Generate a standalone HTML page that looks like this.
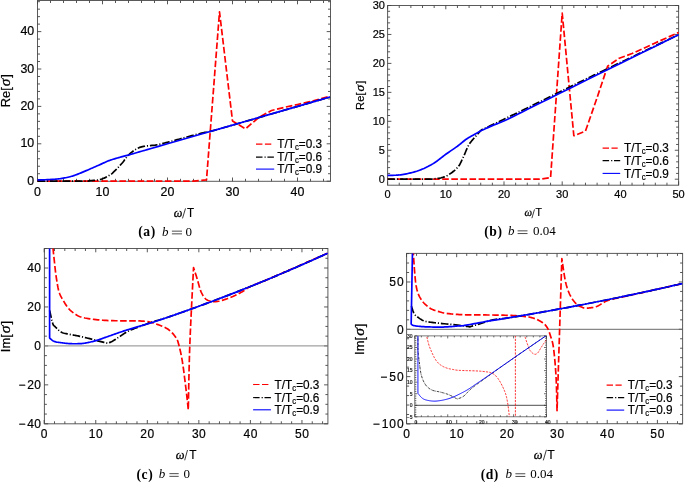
<!DOCTYPE html>
<html><head><meta charset="utf-8"><style>
html,body{margin:0;padding:0;background:#fff;}
svg{display:block;will-change:transform;}
text[font-family*="Sans"]{stroke:#000;stroke-width:0.2px;}
</style></head><body>
<svg width="685" height="482" viewBox="0 0 685 482">
<rect width="685" height="482" fill="#fff"/>
<rect x="37.5" y="0.5" width="293.00" height="180.80" fill="none" stroke="#5a5a5a" stroke-width="1.0"/>
<path d="M37.50,181.3v-3.8M37.50,0.5v3.8M50.50,181.3v-2.5M50.50,0.5v2.5M63.50,181.3v-2.5M63.50,0.5v2.5M76.50,181.3v-2.5M76.50,0.5v2.5M89.50,181.3v-2.5M89.50,0.5v2.5M102.50,181.3v-3.8M102.50,0.5v3.8M115.50,181.3v-2.5M115.50,0.5v2.5M128.50,181.3v-2.5M128.50,0.5v2.5M141.50,181.3v-2.5M141.50,0.5v2.5M154.50,181.3v-2.5M154.50,0.5v2.5M167.50,181.3v-3.8M167.50,0.5v3.8M180.50,181.3v-2.5M180.50,0.5v2.5M193.50,181.3v-2.5M193.50,0.5v2.5M206.50,181.3v-2.5M206.50,0.5v2.5M219.50,181.3v-2.5M219.50,0.5v2.5M232.50,181.3v-3.8M232.50,0.5v3.8M245.50,181.3v-2.5M245.50,0.5v2.5M258.50,181.3v-2.5M258.50,0.5v2.5M271.50,181.3v-2.5M271.50,0.5v2.5M284.50,181.3v-2.5M284.50,0.5v2.5M297.50,181.3v-3.8M297.50,0.5v3.8M310.50,181.3v-2.5M310.50,0.5v2.5M323.50,181.3v-2.5M323.50,0.5v2.5M37.5,181.20h3.8M330.5,181.20h-3.8M37.5,173.72h2.5M330.5,173.72h-2.5M37.5,166.24h2.5M330.5,166.24h-2.5M37.5,158.76h2.5M330.5,158.76h-2.5M37.5,151.28h2.5M330.5,151.28h-2.5M37.5,143.80h3.8M330.5,143.80h-3.8M37.5,136.32h2.5M330.5,136.32h-2.5M37.5,128.84h2.5M330.5,128.84h-2.5M37.5,121.36h2.5M330.5,121.36h-2.5M37.5,113.88h2.5M330.5,113.88h-2.5M37.5,106.40h3.8M330.5,106.40h-3.8M37.5,98.92h2.5M330.5,98.92h-2.5M37.5,91.44h2.5M330.5,91.44h-2.5M37.5,83.96h2.5M330.5,83.96h-2.5M37.5,76.48h2.5M330.5,76.48h-2.5M37.5,69.00h3.8M330.5,69.00h-3.8M37.5,61.52h2.5M330.5,61.52h-2.5M37.5,54.04h2.5M330.5,54.04h-2.5M37.5,46.56h2.5M330.5,46.56h-2.5M37.5,39.08h2.5M330.5,39.08h-2.5M37.5,31.60h3.8M330.5,31.60h-3.8M37.5,24.12h2.5M330.5,24.12h-2.5M37.5,16.64h2.5M330.5,16.64h-2.5M37.5,9.16h2.5M330.5,9.16h-2.5M37.5,1.68h2.5M330.5,1.68h-2.5" stroke="#444" stroke-width="0.9" fill="none"/>
<path d="M37.50,181.20 L193.50,181.13 L206.50,179.89 L219.50,11.78 L232.50,120.99 L245.50,128.84 L258.50,117.62 L271.50,110.51 L284.50,107.33 L297.50,104.53 L310.50,101.54 L330.00,96.30" fill="none" stroke="#ff0000" stroke-width="1.7" stroke-dasharray="6.6 2.5" stroke-linejoin="round"/>
<path d="M37.50,181.20 L41.28,181.20 L46.59,181.19 L52.94,181.19 L59.84,181.18 L66.79,181.17 L73.30,181.16 L78.87,181.15 L83.00,181.13 L85.65,181.11 L87.26,181.09 L88.09,181.08 L88.40,181.06 L88.44,181.04 L88.47,180.99 L88.74,180.92 L89.50,180.83 L90.68,180.71 L92.00,180.59 L93.42,180.45 L94.90,180.29 L96.40,180.11 L97.86,179.89 L99.26,179.63 L100.55,179.33 L101.75,178.97 L102.92,178.56 L104.05,178.11 L105.14,177.62 L106.18,177.12 L107.18,176.60 L108.12,176.09 L109.00,175.59 L109.79,175.12 L110.47,174.68 L111.07,174.26 L111.64,173.81 L112.20,173.34 L112.79,172.80 L113.45,172.19 L114.20,171.48 L115.06,170.64 L116.00,169.71 L116.99,168.69 L118.02,167.62 L119.06,166.51 L120.08,165.40 L121.07,164.30 L122.00,163.25 L122.86,162.21 L123.67,161.15 L124.45,160.08 L125.21,159.02 L125.98,157.97 L126.77,156.95 L127.60,155.96 L128.50,155.02 L129.47,154.11 L130.49,153.21 L131.55,152.33 L132.64,151.48 L133.74,150.68 L134.84,149.93 L135.91,149.26 L136.95,148.66 L137.93,148.16 L138.85,147.75 L139.75,147.41 L140.65,147.13 L141.57,146.89 L142.54,146.67 L143.59,146.45 L144.75,146.23 L146.03,146.02 L147.42,145.86 L148.88,145.72 L150.40,145.59 L151.94,145.46 L153.48,145.31 L154.99,145.14 L156.45,144.92 L157.85,144.66 L159.21,144.38 L160.56,144.08 L161.89,143.75 L163.24,143.41 L164.62,143.05 L166.03,142.68 L167.50,142.30 L169.03,141.90 L170.61,141.48 L172.23,141.04 L173.88,140.59 L175.54,140.12 L177.20,139.66 L178.86,139.20 L180.50,138.75 L182.12,138.30 L183.75,137.85 L185.38,137.40 L187.00,136.95 L188.62,136.50 L190.25,136.06 L191.88,135.62 L193.50,135.20 L195.12,134.78 L196.75,134.38 L198.38,133.98 L200.00,133.59 L201.62,133.19 L203.25,132.80 L204.88,132.41 L206.50,132.02 L207.46,131.82 L207.46,131.89 L207.09,132.08 L206.91,132.22 L207.48,132.13 L209.39,131.65 L213.21,130.61 L219.50,128.84 L229.40,126.02 L242.86,122.16 L258.65,117.62 L275.56,112.75 L292.37,107.90 L307.86,103.43 L320.81,99.70 L330.00,97.05" fill="none" stroke="#000000" stroke-width="1.7" stroke-dasharray="7.6 1.9 1.1 1.9" stroke-linejoin="round"/>
<path d="M37.50,180.00 L38.52,179.97 L39.90,179.93 L41.54,179.88 L43.35,179.82 L45.24,179.75 L47.13,179.68 L48.91,179.60 L50.50,179.52 L51.93,179.43 L53.31,179.34 L54.65,179.24 L55.94,179.14 L57.21,179.02 L58.45,178.89 L59.68,178.75 L60.90,178.58 L62.12,178.39 L63.33,178.18 L64.52,177.96 L65.69,177.72 L66.84,177.47 L67.94,177.21 L69.00,176.96 L70.00,176.71 L70.89,176.49 L71.66,176.29 L72.34,176.10 L73.01,175.91 L73.70,175.68 L74.48,175.41 L75.39,175.07 L76.50,174.66 L77.83,174.13 L79.34,173.52 L80.98,172.84 L82.72,172.12 L84.48,171.37 L86.23,170.63 L87.92,169.91 L89.50,169.23 L90.99,168.59 L92.46,167.95 L93.90,167.32 L95.31,166.70 L96.68,166.09 L98.02,165.49 L99.31,164.92 L100.55,164.37 L101.71,163.85 L102.78,163.35 L103.79,162.87 L104.77,162.41 L105.76,161.96 L106.77,161.51 L107.84,161.07 L109.00,160.63 L110.27,160.18 L111.64,159.74 L113.07,159.29 L114.52,158.85 L115.98,158.43 L117.41,158.02 L118.78,157.63 L120.05,157.26 L121.20,156.94 L122.24,156.66 L123.21,156.41 L124.15,156.17 L125.11,155.92 L126.13,155.66 L127.24,155.36 L128.50,155.02 L129.82,154.65 L131.13,154.28 L132.47,153.89 L133.90,153.48 L135.47,153.02 L137.23,152.51 L139.22,151.94 L141.50,151.28 L143.19,150.79 L143.89,150.59 L144.30,150.47 L145.16,150.23 L147.18,149.65 L151.10,148.52 L157.63,146.64 L167.50,143.80 L182.39,139.52 L202.34,133.78 L225.58,127.09 L250.38,119.96 L274.97,112.88 L297.60,106.37 L316.53,100.93 L330.00,97.05" fill="none" stroke="#0000ff" stroke-width="1.7" stroke-linejoin="round"/>
<line x1="256" y1="144.1" x2="271.7" y2="144.1" stroke="#ff0000" stroke-width="1.1" stroke-dasharray="6.4 2.5"/>
<text transform="translate(277.3,148.26) scale(0.935,1)" font-size="12.6" font-family='"Liberation Sans", sans-serif'>T/T<tspan font-size="8.32" dy="2.14">c</tspan><tspan dy="-2.14">=</tspan>0.3</text>
<line x1="256" y1="157.1" x2="274.2" y2="157.1" stroke="#000000" stroke-width="1.1" stroke-dasharray="6.5 2.0 1.2 1.7"/>
<text transform="translate(277.3,161.26) scale(0.935,1)" font-size="12.6" font-family='"Liberation Sans", sans-serif'>T/T<tspan font-size="8.32" dy="2.14">c</tspan><tspan dy="-2.14">=</tspan>0.6</text>
<line x1="256" y1="169.1" x2="274.2" y2="169.1" stroke="#0000ff" stroke-width="1.1"/>
<text transform="translate(277.3,173.26) scale(0.935,1)" font-size="12.6" font-family='"Liberation Sans", sans-serif'>T/T<tspan font-size="8.32" dy="2.14">c</tspan><tspan dy="-2.14">=</tspan>0.9</text>
<text x="37.50" y="195.50" font-size="12.4" text-anchor="middle" font-family='"Liberation Sans", sans-serif' >0</text>
<text x="102.50" y="195.50" font-size="12.4" text-anchor="middle" font-family='"Liberation Sans", sans-serif' >10</text>
<text x="167.50" y="195.50" font-size="12.4" text-anchor="middle" font-family='"Liberation Sans", sans-serif' >20</text>
<text x="232.50" y="195.50" font-size="12.4" text-anchor="middle" font-family='"Liberation Sans", sans-serif' >30</text>
<text x="297.50" y="195.50" font-size="12.4" text-anchor="middle" font-family='"Liberation Sans", sans-serif' >40</text>
<text x="34.20" y="184.70" font-size="12.4" text-anchor="end" font-family='"Liberation Sans", sans-serif' >0</text>
<text x="34.20" y="147.30" font-size="12.4" text-anchor="end" font-family='"Liberation Sans", sans-serif' >10</text>
<text x="34.20" y="109.90" font-size="12.4" text-anchor="end" font-family='"Liberation Sans", sans-serif' >20</text>
<text x="34.20" y="72.50" font-size="12.4" text-anchor="end" font-family='"Liberation Sans", sans-serif' >30</text>
<text x="34.20" y="35.10" font-size="12.4" text-anchor="end" font-family='"Liberation Sans", sans-serif' >40</text>
<text transform="translate(10.40,90.70) rotate(-90)" font-size="12.8" text-anchor="middle" font-family='"Liberation Sans", sans-serif'>Re[<tspan dx="1.0" font-family='"Liberation Serif", serif' font-style="italic" stroke-width="0.3" font-size="15.36">&#963;</tspan><tspan dx="1.0">]</tspan></text>
<text x="173.63" y="216.50" font-size="12.2" font-style="italic" stroke="#000" stroke-width="0.3" font-family='"Liberation Serif", serif'>&#969;</text>
<line x1="182.5" y1="218.4" x2="185.5" y2="208.4" stroke="#1a1a1a" stroke-width="0.85"/>
<text transform="translate(186.97,216.50) scale(0.9,1)" font-size="12.9" font-family='"Liberation Sans", sans-serif'>T</text>
<text x="138.30" y="236.00" font-size="13.6" font-weight="bold" letter-spacing="0.55" font-family='"Liberation Serif", serif'>(a)</text>
<text x="162.00" y="235.70" font-size="13" font-style="italic" font-family='"Liberation Serif", serif'>b</text>
<path d="M171.90,231.15H182.00M171.90,233.85H182.00" stroke="#111" stroke-width="0.75"/>
<text x="185.60" y="235.70" font-size="13" font-family='"Liberation Serif", serif'>0</text>
<rect x="387.6" y="5.5" width="291.00" height="179.70" fill="none" stroke="#5a5a5a" stroke-width="1.0"/>
<path d="M387.60,185.2v-3.8M387.60,5.5v3.8M399.24,185.2v-2.5M399.24,5.5v2.5M410.88,185.2v-2.5M410.88,5.5v2.5M422.52,185.2v-2.5M422.52,5.5v2.5M434.16,185.2v-2.5M434.16,5.5v2.5M445.80,185.2v-3.8M445.80,5.5v3.8M457.44,185.2v-2.5M457.44,5.5v2.5M469.08,185.2v-2.5M469.08,5.5v2.5M480.72,185.2v-2.5M480.72,5.5v2.5M492.36,185.2v-2.5M492.36,5.5v2.5M504.00,185.2v-3.8M504.00,5.5v3.8M515.64,185.2v-2.5M515.64,5.5v2.5M527.28,185.2v-2.5M527.28,5.5v2.5M538.92,185.2v-2.5M538.92,5.5v2.5M550.56,185.2v-2.5M550.56,5.5v2.5M562.20,185.2v-3.8M562.20,5.5v3.8M573.84,185.2v-2.5M573.84,5.5v2.5M585.48,185.2v-2.5M585.48,5.5v2.5M597.12,185.2v-2.5M597.12,5.5v2.5M608.76,185.2v-2.5M608.76,5.5v2.5M620.40,185.2v-3.8M620.40,5.5v3.8M632.04,185.2v-2.5M632.04,5.5v2.5M643.68,185.2v-2.5M643.68,5.5v2.5M655.32,185.2v-2.5M655.32,5.5v2.5M666.96,185.2v-2.5M666.96,5.5v2.5M678.60,185.2v-3.8M678.60,5.5v3.8M387.6,179.20h3.8M678.6,179.20h-3.8M387.6,173.41h2.5M678.6,173.41h-2.5M387.6,167.62h2.5M678.6,167.62h-2.5M387.6,161.83h2.5M678.6,161.83h-2.5M387.6,156.04h2.5M678.6,156.04h-2.5M387.6,150.25h3.8M678.6,150.25h-3.8M387.6,144.46h2.5M678.6,144.46h-2.5M387.6,138.67h2.5M678.6,138.67h-2.5M387.6,132.88h2.5M678.6,132.88h-2.5M387.6,127.09h2.5M678.6,127.09h-2.5M387.6,121.30h3.8M678.6,121.30h-3.8M387.6,115.51h2.5M678.6,115.51h-2.5M387.6,109.72h2.5M678.6,109.72h-2.5M387.6,103.93h2.5M678.6,103.93h-2.5M387.6,98.14h2.5M678.6,98.14h-2.5M387.6,92.35h3.8M678.6,92.35h-3.8M387.6,86.56h2.5M678.6,86.56h-2.5M387.6,80.77h2.5M678.6,80.77h-2.5M387.6,74.98h2.5M678.6,74.98h-2.5M387.6,69.19h2.5M678.6,69.19h-2.5M387.6,63.40h3.8M678.6,63.40h-3.8M387.6,57.61h2.5M678.6,57.61h-2.5M387.6,51.82h2.5M678.6,51.82h-2.5M387.6,46.03h2.5M678.6,46.03h-2.5M387.6,40.24h2.5M678.6,40.24h-2.5M387.6,34.45h3.8M678.6,34.45h-3.8M387.6,28.66h2.5M678.6,28.66h-2.5M387.6,22.87h2.5M678.6,22.87h-2.5M387.6,17.08h2.5M678.6,17.08h-2.5M387.6,11.29h2.5M678.6,11.29h-2.5M387.6,5.50h3.8M678.6,5.50h-3.8" stroke="#444" stroke-width="0.9" fill="none"/>
<path d="M387.60,179.20 L538.92,179.20 L550.56,177.75 L562.20,13.03 L573.84,135.77 L585.48,131.14 L597.12,97.56 L607.60,66.29 L619.24,58.19 L632.04,53.56 L653.57,43.71 L678.60,32.42" fill="none" stroke="#ff0000" stroke-width="1.7" stroke-dasharray="6.6 2.5" stroke-linejoin="round"/>
<path d="M387.60,179.20 L390.98,179.20 L395.74,179.20 L401.43,179.20 L407.61,179.19 L413.83,179.19 L419.66,179.18 L424.64,179.16 L428.34,179.14 L430.70,179.13 L432.11,179.13 L432.82,179.13 L433.07,179.12 L433.09,179.09 L433.11,179.04 L433.39,178.94 L434.16,178.79 L435.34,178.63 L436.66,178.47 L438.10,178.29 L439.62,178.07 L441.18,177.79 L442.75,177.41 L444.31,176.93 L445.80,176.30 L447.29,175.53 L448.85,174.61 L450.42,173.58 L451.98,172.46 L453.50,171.28 L454.94,170.06 L456.26,168.83 L457.44,167.62 L458.45,166.42 L459.30,165.19 L460.05,163.94 L460.71,162.66 L461.33,161.35 L461.94,160.01 L462.57,158.62 L463.26,157.20 L463.97,155.70 L464.66,154.11 L465.34,152.46 L466.02,150.79 L466.73,149.13 L467.46,147.50 L468.24,145.93 L469.08,144.46 L470.01,143.06 L471.05,141.67 L472.14,140.33 L473.26,139.03 L474.37,137.80 L475.42,136.64 L476.39,135.58 L477.23,134.62 L477.96,133.76 L478.63,132.98 L479.23,132.29 L479.77,131.69 L480.25,131.15 L480.67,130.70 L481.02,130.31 L481.30,129.98 L482.11,129.60 L483.14,129.12 L484.36,128.55 L485.74,127.90 L487.26,127.19 L488.89,126.42 L490.60,125.61 L492.36,124.77 L494.24,123.88 L496.27,122.90 L498.44,121.86 L500.69,120.78 L502.99,119.67 L505.30,118.55 L507.59,117.45 L509.82,116.38 L511.92,115.37 L513.91,114.42 L515.86,113.50 L517.82,112.56 L519.88,111.58 L522.10,110.51 L524.54,109.32 L527.28,107.98 L530.32,106.48 L533.60,104.85 L537.08,103.11 L540.74,101.29 L544.53,99.39 L548.42,97.45 L552.38,95.48 L556.38,93.51 L560.59,91.44 L565.11,89.22 L569.82,86.91 L574.57,84.59 L579.23,82.31 L583.66,80.15 L587.73,78.16 L591.30,76.43 L593.96,75.13 L595.66,74.30 L596.82,73.74 L597.85,73.24 L599.14,72.62 L601.12,71.68 L604.19,70.21 L608.76,68.03 L615.46,64.83 L624.17,60.68 L634.18,55.91 L644.77,50.86 L655.22,45.88 L664.82,41.31 L672.85,37.48 L678.60,34.74" fill="none" stroke="#000000" stroke-width="1.7" stroke-dasharray="7.6 1.9 1.1 1.9" stroke-linejoin="round"/>
<path d="M387.60,175.38 L388.50,175.36 L389.69,175.35 L391.11,175.33 L392.69,175.31 L394.36,175.27 L396.06,175.21 L397.71,175.11 L399.24,174.97 L400.70,174.80 L402.15,174.60 L403.61,174.37 L405.06,174.11 L406.52,173.83 L407.97,173.52 L409.43,173.19 L410.88,172.83 L412.34,172.45 L413.79,172.06 L415.25,171.64 L416.70,171.20 L418.16,170.72 L419.61,170.21 L421.07,169.66 L422.52,169.07 L423.98,168.44 L425.43,167.77 L426.89,167.07 L428.34,166.34 L429.80,165.56 L431.25,164.75 L432.71,163.89 L434.16,162.99 L435.62,162.02 L437.07,160.99 L438.53,159.90 L439.98,158.77 L441.44,157.63 L442.89,156.49 L444.35,155.38 L445.80,154.30 L447.28,153.25 L448.79,152.20 L450.31,151.16 L451.83,150.12 L453.32,149.11 L454.76,148.11 L456.14,147.14 L457.44,146.20 L458.65,145.28 L459.80,144.36 L460.90,143.47 L461.94,142.60 L462.94,141.76 L463.91,140.97 L464.85,140.22 L465.76,139.54 L466.62,138.94 L467.39,138.43 L468.12,137.98 L468.81,137.57 L469.52,137.17 L470.27,136.75 L471.08,136.29 L471.99,135.77 L473.07,135.16 L474.32,134.45 L475.67,133.70 L477.04,132.93 L478.36,132.20 L479.56,131.53 L480.56,130.98 L481.30,130.56 L482.12,130.20 L483.15,129.73 L484.38,129.18 L485.78,128.56 L487.30,127.87 L488.93,127.15 L490.62,126.40 L492.36,125.64 L493.97,124.97 L495.41,124.40 L496.83,123.86 L498.40,123.25 L500.27,122.49 L502.59,121.49 L505.53,120.16 L509.24,118.40 L513.38,116.40 L517.66,114.28 L522.31,111.96 L527.53,109.34 L533.57,106.31 L540.63,102.78 L548.93,98.64 L558.71,93.80 L571.14,87.66 L586.54,80.07 L603.78,71.58 L621.75,62.73 L639.33,54.07 L655.41,46.16 L668.87,39.53 L678.60,34.74" fill="none" stroke="#0000ff" stroke-width="1.7" stroke-linejoin="round"/>
<line x1="602.6" y1="148.1" x2="617.7" y2="148.1" stroke="#ff0000" stroke-width="1.1" stroke-dasharray="6.4 2.5"/>
<text transform="translate(624.0,152.26) scale(0.935,1)" font-size="12.6" font-family='"Liberation Sans", sans-serif'>T/T<tspan font-size="8.32" dy="2.14">c</tspan><tspan dy="-2.14">=</tspan>0.3</text>
<line x1="602.6" y1="160.6" x2="620.2" y2="160.6" stroke="#000000" stroke-width="1.1" stroke-dasharray="6.5 2.0 1.2 1.7"/>
<text transform="translate(624.0,164.76) scale(0.935,1)" font-size="12.6" font-family='"Liberation Sans", sans-serif'>T/T<tspan font-size="8.32" dy="2.14">c</tspan><tspan dy="-2.14">=</tspan>0.6</text>
<line x1="602.6" y1="173.4" x2="620.2" y2="173.4" stroke="#0000ff" stroke-width="1.1"/>
<text transform="translate(624.0,177.56) scale(0.935,1)" font-size="12.6" font-family='"Liberation Sans", sans-serif'>T/T<tspan font-size="8.32" dy="2.14">c</tspan><tspan dy="-2.14">=</tspan>0.9</text>
<text x="387.60" y="198.00" font-size="11.0" text-anchor="middle" font-family='"Liberation Sans", sans-serif' >0</text>
<text x="445.80" y="198.00" font-size="11.0" text-anchor="middle" font-family='"Liberation Sans", sans-serif' >10</text>
<text x="504.00" y="198.00" font-size="11.0" text-anchor="middle" font-family='"Liberation Sans", sans-serif' >20</text>
<text x="562.20" y="198.00" font-size="11.0" text-anchor="middle" font-family='"Liberation Sans", sans-serif' >30</text>
<text x="620.40" y="198.00" font-size="11.0" text-anchor="middle" font-family='"Liberation Sans", sans-serif' >40</text>
<text x="678.60" y="198.00" font-size="11.0" text-anchor="middle" font-family='"Liberation Sans", sans-serif' >50</text>
<text x="384.90" y="183.10" font-size="11.0" text-anchor="end" font-family='"Liberation Sans", sans-serif' >0</text>
<text x="384.90" y="154.15" font-size="11.0" text-anchor="end" font-family='"Liberation Sans", sans-serif' >5</text>
<text x="384.90" y="125.20" font-size="11.0" text-anchor="end" font-family='"Liberation Sans", sans-serif' >10</text>
<text x="384.90" y="96.25" font-size="11.0" text-anchor="end" font-family='"Liberation Sans", sans-serif' >15</text>
<text x="384.90" y="67.30" font-size="11.0" text-anchor="end" font-family='"Liberation Sans", sans-serif' >20</text>
<text x="384.90" y="38.35" font-size="11.0" text-anchor="end" font-family='"Liberation Sans", sans-serif' >25</text>
<text x="384.90" y="9.40" font-size="11.0" text-anchor="end" font-family='"Liberation Sans", sans-serif' >30</text>
<text transform="translate(364.30,95.30) rotate(-90)" font-size="11.2" text-anchor="middle" font-family='"Liberation Sans", sans-serif'>Re[<tspan dx="1.0" font-family='"Liberation Serif", serif' font-style="italic" stroke-width="0.3" font-size="13.44">&#963;</tspan><tspan dx="1.0">]</tspan></text>
<text x="524.38" y="216.40" font-size="10.7" font-style="italic" stroke="#000" stroke-width="0.3" font-family='"Liberation Serif", serif'>&#969;</text>
<line x1="531.9" y1="218.2" x2="534.5" y2="209.4" stroke="#1a1a1a" stroke-width="0.85"/>
<text transform="translate(535.59,216.40) scale(0.97,1)" font-size="10.8" font-family='"Liberation Sans", sans-serif'>T</text>
<text x="484.30" y="235.70" font-size="13.6" font-weight="bold" letter-spacing="0.55" font-family='"Liberation Serif", serif'>(b)</text>
<text x="508.00" y="235.40" font-size="13" font-style="italic" font-family='"Liberation Serif", serif'>b</text>
<path d="M517.60,230.85H527.50M517.60,233.55H527.50" stroke="#111" stroke-width="0.75"/>
<text x="533.10" y="235.40" font-size="13" font-family='"Liberation Serif", serif'>0.04</text>
<rect x="44.4" y="248.5" width="283.50" height="175.30" fill="none" stroke="#5a5a5a" stroke-width="1.0"/>
<path d="M44.20,423.8v-3.8M44.20,248.5v3.8M54.51,423.8v-2.5M54.51,248.5v2.5M64.82,423.8v-2.5M64.82,248.5v2.5M75.13,423.8v-2.5M75.13,248.5v2.5M85.44,423.8v-2.5M85.44,248.5v2.5M95.75,423.8v-3.8M95.75,248.5v3.8M106.06,423.8v-2.5M106.06,248.5v2.5M116.37,423.8v-2.5M116.37,248.5v2.5M126.68,423.8v-2.5M126.68,248.5v2.5M136.99,423.8v-2.5M136.99,248.5v2.5M147.30,423.8v-3.8M147.30,248.5v3.8M157.61,423.8v-2.5M157.61,248.5v2.5M167.92,423.8v-2.5M167.92,248.5v2.5M178.23,423.8v-2.5M178.23,248.5v2.5M188.54,423.8v-2.5M188.54,248.5v2.5M198.85,423.8v-3.8M198.85,248.5v3.8M209.16,423.8v-2.5M209.16,248.5v2.5M219.47,423.8v-2.5M219.47,248.5v2.5M229.78,423.8v-2.5M229.78,248.5v2.5M240.09,423.8v-2.5M240.09,248.5v2.5M250.40,423.8v-3.8M250.40,248.5v3.8M260.71,423.8v-2.5M260.71,248.5v2.5M271.02,423.8v-2.5M271.02,248.5v2.5M281.33,423.8v-2.5M281.33,248.5v2.5M291.64,423.8v-2.5M291.64,248.5v2.5M301.95,423.8v-3.8M301.95,248.5v3.8M312.26,423.8v-2.5M312.26,248.5v2.5M322.57,423.8v-2.5M322.57,248.5v2.5M44.4,423.80h3.8M327.9,423.80h-3.8M44.4,414.06h2.5M327.9,414.06h-2.5M44.4,404.32h2.5M327.9,404.32h-2.5M44.4,394.59h2.5M327.9,394.59h-2.5M44.4,384.85h3.8M327.9,384.85h-3.8M44.4,375.11h2.5M327.9,375.11h-2.5M44.4,365.38h2.5M327.9,365.38h-2.5M44.4,355.64h2.5M327.9,355.64h-2.5M44.4,345.90h3.8M327.9,345.90h-3.8M44.4,336.16h2.5M327.9,336.16h-2.5M44.4,326.42h2.5M327.9,326.42h-2.5M44.4,316.69h2.5M327.9,316.69h-2.5M44.4,306.95h3.8M327.9,306.95h-3.8M44.4,297.21h2.5M327.9,297.21h-2.5M44.4,287.47h2.5M327.9,287.47h-2.5M44.4,277.74h2.5M327.9,277.74h-2.5M44.4,268.00h3.8M327.9,268.00h-3.8M44.4,258.26h2.5M327.9,258.26h-2.5M44.4,248.52h2.5M327.9,248.52h-2.5" stroke="#444" stroke-width="0.9" fill="none"/>
<line x1="44.4" y1="345.90" x2="327.9" y2="345.90" stroke="#8a8a8a" stroke-width="1"/>
<clipPath id="cc"><rect x="44.4" y="248.5" width="283.5" height="175.3"/></clipPath>
<g clip-path="url(#cc)">
<path d="M52.76,238.79 L52.78,239.53 L52.79,240.49 L52.81,241.64 L52.84,242.93 L52.87,244.30 L52.92,245.73 L52.98,247.15 L53.07,248.52 L53.17,249.87 L53.29,251.22 L53.42,252.59 L53.57,254.00 L53.72,255.46 L53.89,256.97 L54.07,258.55 L54.25,260.21 L54.44,261.97 L54.64,263.83 L54.84,265.77 L55.05,267.76 L55.28,269.78 L55.52,271.80 L55.78,273.82 L56.06,275.79 L56.35,277.78 L56.66,279.84 L56.99,281.93 L57.33,284.01 L57.69,286.03 L58.07,287.95 L58.47,289.75 L58.89,291.37 L59.33,292.79 L59.79,294.04 L60.26,295.16 L60.76,296.18 L61.28,297.15 L61.83,298.10 L62.41,299.08 L63.02,300.13 L63.66,301.25 L64.34,302.39 L65.05,303.55 L65.79,304.70 L66.55,305.83 L67.33,306.91 L68.13,307.94 L68.94,308.90 L69.78,309.79 L70.66,310.63 L71.56,311.43 L72.47,312.18 L73.40,312.89 L74.33,313.55 L75.25,314.17 L76.16,314.74 L77.01,315.25 L77.80,315.69 L78.55,316.08 L79.32,316.43 L80.14,316.75 L81.07,317.05 L82.13,317.35 L83.38,317.66 L84.83,317.97 L86.47,318.28 L88.24,318.58 L90.11,318.86 L92.04,319.13 L94.00,319.38 L95.93,319.60 L97.81,319.80 L99.57,319.98 L101.24,320.13 L102.86,320.25 L104.51,320.36 L106.26,320.45 L108.18,320.53 L110.32,320.61 L112.76,320.68 L115.66,320.74 L119.02,320.77 L122.67,320.79 L126.45,320.81 L130.20,320.82 L133.75,320.85 L136.93,320.90 L139.57,320.97 L141.65,321.06 L143.33,321.16 L144.69,321.27 L145.82,321.39 L146.81,321.54 L147.76,321.70 L148.75,321.90 L149.88,322.14 L151.09,322.41 L152.27,322.71 L153.43,323.04 L154.58,323.39 L155.72,323.78 L156.86,324.18 L158.00,324.61 L159.16,325.06 L160.33,325.53 L161.52,326.00 L162.73,326.49 L163.92,327.01 L165.11,327.56 L166.26,328.17 L167.37,328.82 L168.44,329.54 L169.46,330.34 L170.48,331.23 L171.47,332.17 L172.43,333.16 L173.34,334.17 L174.19,335.18 L174.96,336.17 L175.65,337.14 L176.23,338.01 L176.70,338.78 L177.09,339.51 L177.42,340.25 L177.73,341.07 L178.03,342.02 L178.36,343.16 L178.75,344.54 L179.17,346.13 L179.61,347.86 L180.06,349.74 L180.52,351.77 L180.98,353.95 L181.44,356.29 L181.90,358.80 L182.35,361.48 L182.81,364.44 L183.29,367.72 L183.76,371.22 L184.24,374.86 L184.70,378.52 L185.15,382.13 L185.57,385.56 L185.96,388.75 L186.33,391.82 L186.69,394.93 L187.03,398.01 L187.35,400.97 L187.64,403.70 L187.90,406.14 L188.11,408.20 L188.28,409.78 L188.39,404.82 L188.51,398.33 L188.65,390.60 L188.82,381.97 L189.02,372.73 L189.25,363.20 L189.52,353.70 L189.83,344.54 L190.21,334.95 L190.69,324.32 L191.23,313.16 L191.78,302.00 L192.33,291.34 L192.82,281.71 L193.24,273.63 L193.54,267.61 L193.83,268.51 L194.22,269.70 L194.68,271.12 L195.20,272.70 L195.74,274.37 L196.29,276.07 L196.81,277.74 L197.30,279.30 L197.75,280.82 L198.19,282.40 L198.62,284.00 L199.05,285.60 L199.49,287.17 L199.94,288.67 L200.41,290.08 L200.91,291.37 L201.44,292.55 L201.98,293.66 L202.53,294.70 L203.10,295.67 L203.69,296.56 L204.29,297.37 L204.92,298.11 L205.55,298.77 L206.21,299.34 L206.90,299.80 L207.60,300.18 L208.32,300.49 L209.05,300.74 L209.78,300.95 L210.51,301.13 L211.22,301.30 L211.92,301.45 L212.60,301.56 L213.28,301.63 L213.96,301.67 L214.65,301.67 L215.37,301.64 L216.11,301.58 L216.89,301.50 L217.70,301.38 L218.53,301.24 L219.37,301.07 L220.24,300.86 L221.15,300.63 L222.09,300.37 L223.07,300.07 L224.11,299.74 L225.23,299.37 L226.44,298.96 L227.71,298.50 L229.01,298.02 L230.31,297.52 L231.58,297.01 L232.79,296.52 L233.90,296.04 L234.95,295.57 L235.97,295.08 L236.96,294.59 L237.90,294.10 L238.79,293.62 L239.63,293.16 L240.41,292.73 L241.12,292.34 L241.73,292.01 L242.23,291.74 L242.65,291.50 L243.02,291.27 L243.38,291.05 L243.77,290.81 L244.20,290.53 L244.73,290.20 L245.24,289.84 L245.65,289.49 L246.05,289.13 L246.50,288.74 L247.09,288.29 L247.88,287.78 L248.96,287.19 L250.40,286.48 L252.02,285.77 L253.66,285.09 L255.45,284.38 L257.52,283.58 L259.99,282.61 L262.98,281.41 L266.61,279.90 L271.02,278.03 L276.77,275.54 L283.99,272.39 L292.13,268.82 L300.66,265.08 L309.03,261.40 L316.69,258.03 L323.10,255.21 L327.73,253.18" fill="none" stroke="#ff0000" stroke-width="1.7" stroke-dasharray="6.6 2.5" stroke-linejoin="round"/>
<path d="M49.61,310.46 L49.86,311.51 L50.19,312.99 L50.58,314.75 L51.01,316.68 L51.47,318.62 L51.91,320.47 L52.33,322.07 L52.71,323.31 L53.00,324.16 L53.24,324.75 L53.45,325.15 L53.65,325.41 L53.88,325.63 L54.17,325.85 L54.54,326.16 L55.03,326.62 L55.63,327.24 L56.33,327.95 L57.11,328.73 L57.95,329.53 L58.83,330.32 L59.73,331.06 L60.64,331.72 L61.52,332.27 L62.41,332.69 L63.32,333.03 L64.25,333.29 L65.19,333.51 L66.13,333.69 L67.08,333.86 L68.02,334.02 L68.94,334.21 L69.86,334.41 L70.76,334.59 L71.67,334.76 L72.57,334.92 L73.46,335.08 L74.36,335.24 L75.26,335.40 L76.16,335.58 L77.06,335.76 L77.97,335.95 L78.87,336.14 L79.77,336.33 L80.67,336.53 L81.57,336.73 L82.48,336.93 L83.38,337.14 L84.28,337.34 L85.18,337.56 L86.08,337.77 L86.99,337.99 L87.89,338.21 L88.79,338.43 L89.69,338.66 L90.59,338.89 L91.49,339.12 L92.39,339.36 L93.28,339.61 L94.17,339.85 L95.07,340.10 L95.97,340.35 L96.89,340.59 L97.81,340.84 L98.79,341.09 L99.83,341.36 L100.90,341.64 L101.97,341.91 L103.00,342.17 L103.96,342.41 L104.82,342.62 L105.54,342.78 L106.13,342.91 L106.61,343.00 L107.00,343.06 L107.32,343.10 L107.57,343.12 L107.78,343.14 L107.96,343.15 L108.12,343.17 L108.46,343.03 L108.90,342.85 L109.41,342.64 L109.99,342.39 L110.63,342.11 L111.31,341.80 L112.03,341.43 L112.76,341.03 L113.54,340.57 L114.38,340.04 L115.28,339.46 L116.21,338.85 L117.16,338.22 L118.11,337.59 L119.06,336.96 L119.98,336.36 L120.89,335.76 L121.82,335.14 L122.75,334.51 L123.68,333.89 L124.60,333.28 L125.50,332.70 L126.37,332.16 L127.20,331.68 L127.97,331.26 L128.70,330.90 L129.39,330.58 L130.06,330.28 L130.73,330.01 L131.41,329.73 L132.12,329.45 L132.87,329.15 L133.63,328.84 L134.38,328.55 L135.14,328.26 L135.93,327.96 L136.74,327.66 L137.61,327.34 L138.55,327.00 L139.57,326.62 L140.63,326.22 L141.71,325.81 L142.83,325.38 L144.01,324.93 L145.29,324.46 L146.67,323.96 L148.19,323.42 L149.88,322.85 L151.75,322.24 L153.78,321.60 L155.96,320.93 L158.25,320.23 L160.63,319.51 L163.05,318.76 L165.49,317.98 L167.92,317.19 L170.37,316.36 L172.89,315.50 L175.46,314.61 L178.07,313.70 L180.69,312.77 L183.32,311.84 L185.94,310.90 L188.54,309.98 L191.12,309.05 L193.69,308.13 L196.27,307.19 L198.85,306.26 L201.43,305.31 L204.00,304.37 L206.58,303.41 L209.16,302.46 L211.74,301.50 L214.31,300.53 L216.89,299.56 L219.47,298.58 L222.05,297.60 L224.62,296.61 L227.20,295.62 L229.78,294.63 L232.36,293.63 L234.94,292.62 L237.51,291.61 L240.09,290.59 L242.67,289.57 L245.25,288.55 L247.82,287.52 L250.40,286.48 L252.98,285.44 L255.56,284.40 L258.13,283.35 L260.71,282.30 L263.29,281.24 L265.87,280.17 L268.44,279.10 L271.02,278.03 L273.60,276.95 L276.18,275.87 L278.75,274.78 L281.33,273.69 L283.91,272.59 L286.49,271.49 L289.06,270.38 L291.64,269.27 L294.25,268.13 L296.92,266.97 L299.60,265.79 L302.27,264.62 L304.91,263.46 L307.47,262.32 L309.93,261.23 L312.26,260.19 L314.55,259.17 L316.85,258.13 L319.12,257.10 L321.28,256.12 L323.28,255.20 L325.07,254.39 L326.57,253.71 L327.73,253.18" fill="none" stroke="#000000" stroke-width="1.7" stroke-dasharray="7.6 1.9 1.1 1.9" stroke-linejoin="round"/>
<path d="M49.61,229.05 L49.61,338.11 L49.95,338.38 L50.37,338.75 L50.88,339.19 L51.45,339.68 L52.08,340.18 L52.75,340.65 L53.47,341.08 L54.20,341.42 L54.98,341.69 L55.84,341.91 L56.74,342.10 L57.68,342.26 L58.65,342.40 L59.62,342.53 L60.58,342.65 L61.52,342.78 L62.45,342.91 L63.37,343.03 L64.31,343.14 L65.24,343.25 L66.17,343.34 L67.10,343.42 L68.03,343.50 L68.94,343.56 L69.86,343.62 L70.76,343.67 L71.67,343.70 L72.57,343.73 L73.46,343.75 L74.36,343.76 L75.26,343.77 L76.16,343.76 L77.06,343.74 L77.97,343.72 L78.87,343.70 L79.77,343.66 L80.67,343.61 L81.57,343.55 L82.48,343.47 L83.38,343.37 L84.28,343.25 L85.18,343.11 L86.08,342.95 L86.99,342.78 L87.89,342.60 L88.79,342.41 L89.69,342.21 L90.59,342.00 L91.49,341.79 L92.39,341.58 L93.28,341.35 L94.17,341.12 L95.07,340.87 L95.97,340.61 L96.89,340.34 L97.81,340.06 L98.76,339.75 L99.72,339.43 L100.70,339.08 L101.68,338.73 L102.66,338.37 L103.64,338.02 L104.60,337.67 L105.54,337.33 L106.47,337.01 L107.38,336.68 L108.29,336.37 L109.19,336.05 L110.08,335.74 L110.97,335.43 L111.86,335.11 L112.76,334.80 L113.66,334.48 L114.57,334.16 L115.47,333.84 L116.37,333.52 L117.27,333.20 L118.17,332.89 L119.08,332.57 L119.98,332.27 L120.85,331.98 L121.66,331.70 L122.46,331.44 L123.26,331.17 L124.11,330.90 L125.03,330.61 L126.05,330.29 L127.20,329.93 L128.51,329.53 L129.97,329.08 L131.55,328.61 L133.19,328.12 L134.85,327.63 L136.50,327.14 L138.08,326.67 L139.57,326.23 L140.90,325.84 L142.11,325.50 L143.24,325.19 L144.37,324.88 L145.54,324.55 L146.80,324.19 L148.23,323.76 L149.88,323.24 L151.75,322.64 L153.78,321.97 L155.96,321.25 L158.25,320.48 L160.63,319.68 L163.05,318.85 L165.49,318.02 L167.92,317.19 L170.37,316.34 L172.89,315.47 L175.46,314.58 L178.07,313.67 L180.69,312.76 L183.32,311.83 L185.94,310.90 L188.54,309.98 L191.12,309.05 L193.69,308.13 L196.27,307.19 L198.85,306.26 L201.43,305.31 L204.00,304.37 L206.58,303.41 L209.16,302.46 L211.74,301.50 L214.31,300.53 L216.89,299.56 L219.47,298.58 L222.05,297.60 L224.62,296.61 L227.20,295.62 L229.78,294.63 L232.36,293.63 L234.94,292.62 L237.51,291.61 L240.09,290.59 L242.67,289.57 L245.25,288.55 L247.82,287.52 L250.40,286.48 L252.98,285.44 L255.56,284.40 L258.13,283.35 L260.71,282.30 L263.29,281.24 L265.87,280.17 L268.44,279.10 L271.02,278.03 L273.60,276.95 L276.18,275.87 L278.75,274.78 L281.33,273.69 L283.91,272.59 L286.49,271.49 L289.06,270.38 L291.64,269.27 L294.25,268.13 L296.92,266.97 L299.60,265.79 L302.27,264.62 L304.91,263.46 L307.47,262.32 L309.93,261.23 L312.26,260.19 L314.55,259.17 L316.85,258.13 L319.12,257.10 L321.28,256.12 L323.28,255.20 L325.07,254.39 L326.57,253.71 L327.73,253.18" fill="none" stroke="#0000ff" stroke-width="1.7" stroke-linejoin="round"/>
</g>
<line x1="253.1" y1="384.5" x2="268.4" y2="384.5" stroke="#ff0000" stroke-width="1.1" stroke-dasharray="6.4 2.5"/>
<text transform="translate(274.6,388.66) scale(0.935,1)" font-size="12.6" font-family='"Liberation Sans", sans-serif'>T/T<tspan font-size="8.32" dy="2.14">c</tspan><tspan dy="-2.14">=</tspan>0.3</text>
<line x1="253.1" y1="397.6" x2="270.9" y2="397.6" stroke="#000000" stroke-width="1.1" stroke-dasharray="6.5 2.0 1.2 1.7"/>
<text transform="translate(274.6,401.76) scale(0.935,1)" font-size="12.6" font-family='"Liberation Sans", sans-serif'>T/T<tspan font-size="8.32" dy="2.14">c</tspan><tspan dy="-2.14">=</tspan>0.6</text>
<line x1="253.1" y1="409.8" x2="270.9" y2="409.8" stroke="#0000ff" stroke-width="1.1"/>
<text transform="translate(274.6,413.96) scale(0.935,1)" font-size="12.6" font-family='"Liberation Sans", sans-serif'>T/T<tspan font-size="8.32" dy="2.14">c</tspan><tspan dy="-2.14">=</tspan>0.9</text>
<text x="44.45" y="438.40" font-size="12" text-anchor="middle" font-family='"Liberation Sans", sans-serif' letter-spacing="0.5">0</text>
<text x="96.00" y="438.40" font-size="12" text-anchor="middle" font-family='"Liberation Sans", sans-serif' letter-spacing="0.5">10</text>
<text x="147.55" y="438.40" font-size="12" text-anchor="middle" font-family='"Liberation Sans", sans-serif' letter-spacing="0.5">20</text>
<text x="199.10" y="438.40" font-size="12" text-anchor="middle" font-family='"Liberation Sans", sans-serif' letter-spacing="0.5">30</text>
<text x="250.65" y="438.40" font-size="12" text-anchor="middle" font-family='"Liberation Sans", sans-serif' letter-spacing="0.5">40</text>
<text x="302.20" y="438.40" font-size="12" text-anchor="middle" font-family='"Liberation Sans", sans-serif' letter-spacing="0.5">50</text>
<text x="41.50" y="428.10" font-size="12" text-anchor="end" font-family='"Liberation Sans", sans-serif' letter-spacing="0.5">&#8722;<tspan dx="1.2">40</tspan></text>
<text x="41.50" y="389.15" font-size="12" text-anchor="end" font-family='"Liberation Sans", sans-serif' letter-spacing="0.5">&#8722;<tspan dx="1.2">20</tspan></text>
<text x="41.50" y="350.20" font-size="12" text-anchor="end" font-family='"Liberation Sans", sans-serif' letter-spacing="0.5">0</text>
<text x="41.50" y="311.25" font-size="12" text-anchor="end" font-family='"Liberation Sans", sans-serif' letter-spacing="0.5">20</text>
<text x="41.50" y="272.30" font-size="12" text-anchor="end" font-family='"Liberation Sans", sans-serif' letter-spacing="0.5">40</text>
<text transform="translate(9.80,336.50) rotate(-90)" font-size="13" text-anchor="middle" font-family='"Liberation Sans", sans-serif'>Im[<tspan dx="1.0" font-family='"Liberation Serif", serif' font-style="italic" stroke-width="0.3" font-size="15.60">&#963;</tspan><tspan dx="1.0">]</tspan></text>
<text x="175.83" y="458.60" font-size="12.4" font-style="italic" stroke="#000" stroke-width="0.3" font-family='"Liberation Serif", serif'>&#969;</text>
<line x1="184.7" y1="460.3" x2="187.5" y2="450.0" stroke="#1a1a1a" stroke-width="0.85"/>
<text transform="translate(189.16,458.60) scale(0.92,1)" font-size="12.9" font-family='"Liberation Sans", sans-serif'>T</text>
<text x="136.50" y="478.50" font-size="13.6" font-weight="bold" letter-spacing="0.55" font-family='"Liberation Serif", serif'>(c)</text>
<text x="158.80" y="478.20" font-size="13" font-style="italic" font-family='"Liberation Serif", serif'>b</text>
<path d="M169.40,473.65H178.70M169.40,476.35H178.70" stroke="#111" stroke-width="0.75"/>
<text x="183.60" y="478.20" font-size="13" font-family='"Liberation Serif", serif'>0</text>
<rect x="406.6" y="253.4" width="276.00" height="170.30" fill="none" stroke="#5a5a5a" stroke-width="1.0"/>
<path d="M406.50,423.7v-3.8M406.50,253.4v3.8M416.54,423.7v-2.5M416.54,253.4v2.5M426.57,423.7v-2.5M426.57,253.4v2.5M436.61,423.7v-2.5M436.61,253.4v2.5M446.64,423.7v-2.5M446.64,253.4v2.5M456.68,423.7v-3.8M456.68,253.4v3.8M466.72,423.7v-2.5M466.72,253.4v2.5M476.75,423.7v-2.5M476.75,253.4v2.5M486.79,423.7v-2.5M486.79,253.4v2.5M496.82,423.7v-2.5M496.82,253.4v2.5M506.86,423.7v-3.8M506.86,253.4v3.8M516.90,423.7v-2.5M516.90,253.4v2.5M526.93,423.7v-2.5M526.93,253.4v2.5M536.97,423.7v-2.5M536.97,253.4v2.5M547.00,423.7v-2.5M547.00,253.4v2.5M557.04,423.7v-3.8M557.04,253.4v3.8M567.08,423.7v-2.5M567.08,253.4v2.5M577.11,423.7v-2.5M577.11,253.4v2.5M587.15,423.7v-2.5M587.15,253.4v2.5M597.18,423.7v-2.5M597.18,253.4v2.5M607.22,423.7v-3.8M607.22,253.4v3.8M617.26,423.7v-2.5M617.26,253.4v2.5M627.29,423.7v-2.5M627.29,253.4v2.5M637.33,423.7v-2.5M637.33,253.4v2.5M647.36,423.7v-2.5M647.36,253.4v2.5M657.40,423.7v-3.8M657.40,253.4v3.8M667.44,423.7v-2.5M667.44,253.4v2.5M677.47,423.7v-2.5M677.47,253.4v2.5M406.6,423.97h3.8M682.6,423.97h-3.8M406.6,414.50h2.5M682.6,414.50h-2.5M406.6,405.04h2.5M682.6,405.04h-2.5M406.6,395.57h2.5M682.6,395.57h-2.5M406.6,386.10h2.5M682.6,386.10h-2.5M406.6,376.63h3.8M682.6,376.63h-3.8M406.6,367.17h2.5M682.6,367.17h-2.5M406.6,357.70h2.5M682.6,357.70h-2.5M406.6,348.23h2.5M682.6,348.23h-2.5M406.6,338.77h2.5M682.6,338.77h-2.5M406.6,329.30h3.8M682.6,329.30h-3.8M406.6,319.83h2.5M682.6,319.83h-2.5M406.6,310.37h2.5M682.6,310.37h-2.5M406.6,300.90h2.5M682.6,300.90h-2.5M406.6,291.43h2.5M682.6,291.43h-2.5M406.6,281.97h3.8M682.6,281.97h-3.8M406.6,272.50h2.5M682.6,272.50h-2.5M406.6,263.03h2.5M682.6,263.03h-2.5M406.6,253.56h2.5M682.6,253.56h-2.5" stroke="#444" stroke-width="0.9" fill="none"/>
<line x1="406.6" y1="329.30" x2="682.6" y2="329.30" stroke="#6a6a6a" stroke-width="1"/>
<clipPath id="cd"><rect x="406.6" y="253.4" width="276" height="170.3"/></clipPath>
<g clip-path="url(#cd)">
<path d="M413.02,248.83 L413.03,249.01 L413.02,249.05 L413.01,249.08 L413.00,249.22 L413.02,249.61 L413.07,250.38 L413.17,251.65 L413.32,253.56 L413.53,256.35 L413.78,259.99 L414.06,264.22 L414.38,268.79 L414.74,273.43 L415.14,277.88 L415.57,281.89 L416.03,285.18 L416.52,287.82 L417.03,290.06 L417.57,291.99 L418.15,293.66 L418.77,295.15 L419.46,296.54 L420.22,297.90 L421.05,299.29 L421.98,300.69 L423.00,302.00 L424.10,303.23 L425.25,304.38 L426.45,305.45 L427.66,306.45 L428.88,307.36 L430.08,308.19 L431.32,308.92 L432.61,309.55 L433.93,310.09 L435.26,310.55 L436.57,310.95 L437.84,311.31 L439.03,311.65 L440.12,311.98 L441.07,312.27 L441.89,312.51 L442.63,312.70 L443.32,312.86 L444.02,312.99 L444.78,313.12 L445.64,313.25 L446.64,313.40 L447.79,313.55 L449.02,313.70 L450.32,313.84 L451.69,313.98 L453.12,314.10 L454.61,314.23 L456.13,314.34 L457.68,314.44 L459.25,314.53 L460.82,314.60 L462.42,314.67 L464.08,314.73 L465.82,314.79 L467.66,314.83 L469.62,314.87 L471.73,314.91 L474.08,314.94 L476.67,314.96 L479.43,314.97 L482.27,314.97 L485.11,314.97 L487.87,314.98 L490.46,314.99 L492.81,315.00 L494.92,315.03 L496.86,315.05 L498.68,315.08 L500.40,315.11 L502.05,315.15 L503.65,315.19 L505.25,315.23 L506.86,315.29 L508.46,315.35 L510.00,315.41 L511.50,315.47 L512.98,315.54 L514.44,315.62 L515.90,315.71 L517.39,315.82 L518.90,315.95 L520.46,316.09 L522.06,316.22 L523.68,316.37 L525.30,316.53 L526.91,316.71 L528.48,316.94 L530.00,317.22 L531.45,317.56 L532.85,317.97 L534.24,318.43 L535.59,318.95 L536.91,319.51 L538.16,320.09 L539.35,320.70 L540.46,321.31 L541.48,321.92 L542.40,322.51 L543.23,323.09 L543.97,323.68 L544.65,324.29 L545.28,324.94 L545.87,325.63 L546.44,326.39 L547.00,327.22 L547.54,328.12 L548.04,329.07 L548.49,330.08 L548.92,331.13 L549.32,332.25 L549.72,333.42 L550.12,334.64 L550.52,335.93 L550.92,337.18 L551.32,338.37 L551.70,339.57 L552.08,340.85 L552.46,342.28 L552.82,343.94 L553.18,345.90 L553.53,348.23 L553.88,350.98 L554.23,354.07 L554.57,357.46 L554.91,361.07 L555.23,364.86 L555.53,368.76 L555.80,372.70 L556.04,376.63 L556.24,380.86 L556.42,385.55 L556.57,390.50 L556.70,395.45 L556.80,400.18 L556.89,404.46 L556.97,408.05 L557.04,410.72 L561.86,258.68 L562.14,260.54 L562.51,263.10 L562.94,266.15 L563.43,269.50 L563.96,272.95 L564.50,276.31 L565.04,279.38 L565.57,281.97 L566.09,284.13 L566.61,286.07 L567.14,287.84 L567.68,289.46 L568.25,290.97 L568.83,292.39 L569.44,293.77 L570.09,295.12 L570.77,296.45 L571.49,297.71 L572.23,298.91 L573.00,300.03 L573.78,301.08 L574.57,302.04 L575.35,302.93 L576.11,303.74 L576.88,304.45 L577.68,305.06 L578.50,305.58 L579.31,306.03 L580.09,306.42 L580.84,306.76 L581.52,307.06 L582.13,307.34 L582.64,307.57 L583.06,307.73 L583.41,307.83 L583.73,307.90 L584.03,307.94 L584.35,307.96 L584.71,307.97 L585.14,308.00 L585.61,308.03 L586.09,308.06 L586.59,308.09 L587.12,308.09 L587.68,308.08 L588.28,308.05 L588.94,307.99 L589.66,307.90 L590.44,307.80 L591.27,307.70 L592.15,307.59 L593.08,307.44 L594.05,307.26 L595.06,307.01 L596.10,306.70 L597.18,306.30 L598.30,305.77 L599.45,305.13 L600.63,304.40 L601.86,303.61 L603.13,302.82 L604.44,302.05 L605.80,301.33 L607.22,300.72 L608.71,300.19 L610.29,299.71 L611.94,299.27 L613.62,298.87 L615.32,298.49 L617.01,298.12 L618.66,297.76 L620.27,297.39 L621.56,297.09 L622.45,296.89 L623.18,296.74 L623.97,296.58 L625.04,296.36 L626.64,296.03 L628.99,295.52 L632.31,294.79 L637.10,293.72 L643.35,292.32 L650.54,290.71 L658.15,289.00 L665.67,287.31 L672.58,285.76 L678.36,284.47 L682.49,283.54" fill="none" stroke="#ff0000" stroke-width="1.7" stroke-dasharray="6.6 2.5" stroke-linejoin="round"/>
<path d="M411.37,306.11 L411.57,306.69 L411.83,307.50 L412.13,308.47 L412.48,309.53 L412.85,310.61 L413.24,311.66 L413.64,312.61 L414.03,313.40 L414.41,314.02 L414.80,314.56 L415.19,315.02 L415.60,315.43 L416.04,315.81 L416.50,316.19 L417.00,316.57 L417.54,316.99 L418.14,317.45 L418.78,317.92 L419.47,318.40 L420.19,318.88 L420.92,319.34 L421.65,319.77 L422.37,320.16 L423.06,320.50 L423.69,320.77 L424.24,321.00 L424.77,321.18 L425.30,321.34 L425.89,321.47 L426.56,321.61 L427.36,321.75 L428.33,321.92 L429.45,322.09 L430.68,322.26 L432.02,322.43 L433.46,322.60 L434.99,322.78 L436.61,322.95 L438.33,323.14 L440.12,323.34 L442.08,323.54 L444.23,323.76 L446.53,323.99 L448.89,324.22 L451.25,324.45 L453.55,324.68 L455.71,324.91 L457.68,325.13 L459.54,325.36 L461.36,325.61 L463.13,325.86 L464.80,326.10 L466.34,326.33 L467.69,326.53 L468.84,326.71 L469.73,326.84 L470.53,326.60 L471.57,326.29 L472.82,325.93 L474.21,325.52 L475.70,325.08 L477.24,324.62 L478.78,324.16 L480.26,323.71 L481.73,323.25 L483.22,322.75 L484.76,322.22 L486.32,321.69 L487.91,321.16 L489.52,320.67 L491.16,320.22 L492.81,319.83 L494.45,319.53 L496.08,319.29 L497.70,319.10 L499.36,318.94 L501.08,318.78 L502.89,318.60 L504.81,318.39 L506.86,318.11 L509.08,317.77 L511.45,317.38 L513.95,316.97 L516.52,316.54 L519.14,316.09 L521.77,315.63 L524.38,315.18 L526.93,314.74 L529.44,314.31 L531.95,313.88 L534.46,313.44 L536.97,313.00 L539.48,312.56 L541.99,312.12 L544.50,311.67 L547.00,311.23 L549.51,310.78 L552.02,310.32 L554.53,309.87 L557.04,309.41 L559.55,308.95 L562.06,308.49 L564.57,308.02 L567.08,307.56 L569.59,307.09 L572.09,306.62 L574.60,306.14 L577.11,305.67 L579.62,305.19 L582.13,304.71 L584.64,304.23 L587.15,303.74 L589.66,303.25 L592.17,302.76 L594.67,302.27 L597.18,301.77 L599.69,301.28 L602.20,300.78 L604.71,300.27 L607.22,299.77 L609.73,299.26 L612.24,298.75 L614.75,298.24 L617.26,297.73 L619.76,297.21 L622.27,296.69 L624.78,296.17 L627.29,295.65 L629.80,295.12 L632.31,294.60 L634.82,294.07 L637.33,293.53 L639.84,293.00 L642.35,292.46 L644.86,291.92 L647.36,291.38 L649.91,290.83 L652.50,290.26 L655.11,289.69 L657.71,289.11 L660.28,288.55 L662.77,287.99 L665.17,287.46 L667.44,286.96 L669.66,286.46 L671.91,285.95 L674.11,285.45 L676.22,284.97 L678.17,284.53 L679.90,284.13 L681.36,283.80 L682.49,283.54" fill="none" stroke="#000000" stroke-width="1.7" stroke-dasharray="7.6 1.9 1.1 1.9" stroke-linejoin="round"/>
<path d="M412.52,248.83 L411.17,324.00 L411.29,324.10 L411.44,324.25 L411.61,324.42 L411.81,324.61 L412.05,324.80 L412.33,324.99 L412.65,325.17 L413.02,325.32 L413.43,325.45 L413.86,325.57 L414.32,325.69 L414.83,325.79 L415.40,325.89 L416.03,325.99 L416.74,326.08 L417.54,326.18 L418.42,326.27 L419.37,326.36 L420.40,326.45 L421.49,326.54 L422.66,326.63 L423.89,326.70 L425.20,326.78 L426.57,326.84 L428.06,326.90 L429.69,326.96 L431.41,327.01 L433.19,327.06 L434.99,327.10 L436.77,327.12 L438.49,327.13 L440.12,327.12 L441.70,327.09 L443.28,327.04 L444.84,326.97 L446.36,326.89 L447.83,326.81 L449.21,326.72 L450.50,326.63 L451.66,326.55 L452.67,326.48 L453.53,326.41 L454.28,326.34 L454.96,326.27 L455.59,326.20 L456.24,326.13 L456.92,326.06 L457.68,325.99 L458.46,325.93 L459.17,325.90 L459.87,325.87 L460.61,325.84 L461.41,325.80 L462.34,325.72 L463.42,325.60 L464.71,325.42 L466.26,325.17 L468.05,324.85 L470.01,324.49 L472.09,324.10 L474.20,323.70 L476.30,323.30 L478.31,322.92 L480.16,322.58 L481.87,322.27 L483.49,321.98 L485.05,321.71 L486.57,321.44 L488.09,321.18 L489.62,320.91 L491.18,320.65 L492.81,320.37 L494.46,320.10 L496.08,319.84 L497.71,319.57 L499.37,319.31 L501.09,319.04 L502.89,318.75 L504.81,318.44 L506.86,318.11 L509.08,317.74 L511.45,317.35 L513.95,316.93 L516.52,316.50 L519.14,316.06 L521.77,315.62 L524.38,315.18 L526.93,314.74 L529.44,314.31 L531.95,313.88 L534.46,313.44 L536.97,313.00 L539.48,312.56 L541.99,312.12 L544.50,311.67 L547.00,311.23 L549.51,310.78 L552.02,310.32 L554.53,309.87 L557.04,309.41 L559.55,308.95 L562.06,308.49 L564.57,308.02 L567.08,307.56 L569.59,307.09 L572.09,306.62 L574.60,306.14 L577.11,305.67 L579.62,305.19 L582.13,304.71 L584.64,304.23 L587.15,303.74 L589.66,303.25 L592.17,302.76 L594.67,302.27 L597.18,301.77 L599.69,301.28 L602.20,300.78 L604.71,300.27 L607.22,299.77 L609.73,299.26 L612.24,298.75 L614.75,298.24 L617.26,297.73 L619.76,297.21 L622.27,296.69 L624.78,296.17 L627.29,295.65 L629.80,295.12 L632.31,294.60 L634.82,294.07 L637.33,293.53 L639.84,293.00 L642.35,292.46 L644.86,291.92 L647.36,291.38 L649.91,290.83 L652.50,290.26 L655.11,289.69 L657.71,289.11 L660.28,288.55 L662.77,287.99 L665.17,287.46 L667.44,286.96 L669.66,286.46 L671.91,285.95 L674.11,285.45 L676.22,284.97 L678.17,284.53 L679.90,284.13 L681.36,283.80 L682.49,283.54" fill="none" stroke="#0000ff" stroke-width="1.7" stroke-linejoin="round"/>
</g>
<line x1="606.6" y1="385.1" x2="621.7" y2="385.1" stroke="#ff0000" stroke-width="1.1" stroke-dasharray="6.4 2.5"/>
<text transform="translate(627.7,389.26) scale(0.935,1)" font-size="12.6" font-family='"Liberation Sans", sans-serif'>T/T<tspan font-size="8.32" dy="2.14">c</tspan><tspan dy="-2.14">=</tspan>0.3</text>
<line x1="606.6" y1="397.6" x2="624.2" y2="397.6" stroke="#000000" stroke-width="1.1" stroke-dasharray="6.5 2.0 1.2 1.7"/>
<text transform="translate(627.7,401.76) scale(0.935,1)" font-size="12.6" font-family='"Liberation Sans", sans-serif'>T/T<tspan font-size="8.32" dy="2.14">c</tspan><tspan dy="-2.14">=</tspan>0.6</text>
<line x1="606.6" y1="410.1" x2="624.2" y2="410.1" stroke="#0000ff" stroke-width="1.1"/>
<text transform="translate(627.7,414.26) scale(0.935,1)" font-size="12.6" font-family='"Liberation Sans", sans-serif'>T/T<tspan font-size="8.32" dy="2.14">c</tspan><tspan dy="-2.14">=</tspan>0.9</text>
<text x="406.95" y="438.30" font-size="12" text-anchor="middle" font-family='"Liberation Sans", sans-serif' letter-spacing="0.9">0</text>
<text x="457.13" y="438.30" font-size="12" text-anchor="middle" font-family='"Liberation Sans", sans-serif' letter-spacing="0.9">10</text>
<text x="507.31" y="438.30" font-size="12" text-anchor="middle" font-family='"Liberation Sans", sans-serif' letter-spacing="0.9">20</text>
<text x="557.49" y="438.30" font-size="12" text-anchor="middle" font-family='"Liberation Sans", sans-serif' letter-spacing="0.9">30</text>
<text x="607.67" y="438.30" font-size="12" text-anchor="middle" font-family='"Liberation Sans", sans-serif' letter-spacing="0.9">40</text>
<text x="657.85" y="438.30" font-size="12" text-anchor="middle" font-family='"Liberation Sans", sans-serif' letter-spacing="0.9">50</text>
<text x="404.50" y="428.27" font-size="12" text-anchor="end" font-family='"Liberation Sans", sans-serif' letter-spacing="0.9">&#8722;<tspan dx="1.2">100</tspan></text>
<text x="404.50" y="380.94" font-size="12" text-anchor="end" font-family='"Liberation Sans", sans-serif' letter-spacing="0.9">&#8722;<tspan dx="1.2">50</tspan></text>
<text x="404.50" y="333.60" font-size="12" text-anchor="end" font-family='"Liberation Sans", sans-serif' letter-spacing="0.9">0</text>
<text x="404.50" y="286.27" font-size="12" text-anchor="end" font-family='"Liberation Sans", sans-serif' letter-spacing="0.9">50</text>
<text transform="translate(364.20,339.20) rotate(-90)" font-size="13" text-anchor="middle" font-family='"Liberation Sans", sans-serif'>Im[<tspan dx="1.0" font-family='"Liberation Serif", serif' font-style="italic" stroke-width="0.3" font-size="15.60">&#963;</tspan><tspan dx="1.0">]</tspan></text>
<text x="533.83" y="458.60" font-size="12.4" font-style="italic" stroke="#000" stroke-width="0.3" font-family='"Liberation Serif", serif'>&#969;</text>
<line x1="543.3" y1="460.4" x2="546.4" y2="449.8" stroke="#1a1a1a" stroke-width="0.85"/>
<text transform="translate(547.35,458.60) scale(0.95,1)" font-size="12.9" font-family='"Liberation Sans", sans-serif'>T</text>
<text x="480.70" y="478.60" font-size="13.6" font-weight="bold" letter-spacing="0.55" font-family='"Liberation Serif", serif'>(d)</text>
<text x="505.50" y="478.30" font-size="13" font-style="italic" font-family='"Liberation Serif", serif'>b</text>
<path d="M515.40,473.75H525.30M515.40,476.45H525.30" stroke="#111" stroke-width="0.75"/>
<text x="530.30" y="478.30" font-size="13" font-family='"Liberation Serif", serif'>0.04</text>
<rect x="414.8" y="335.9" width="131.7" height="80.90000000000003" fill="#fff"/>
<rect x="414.8" y="335.9" width="131.70" height="80.90" fill="none" stroke="#5a5a5a" stroke-width="0.8"/>
<path d="M414.80,416.8v-2.5M414.80,335.9v2.5M421.38,416.8v-1.5M421.38,335.9v1.5M427.97,416.8v-1.5M427.97,335.9v1.5M434.56,416.8v-1.5M434.56,335.9v1.5M441.14,416.8v-1.5M441.14,335.9v1.5M447.73,416.8v-2.5M447.73,335.9v2.5M454.31,416.8v-1.5M454.31,335.9v1.5M460.89,416.8v-1.5M460.89,335.9v1.5M467.48,416.8v-1.5M467.48,335.9v1.5M474.06,416.8v-1.5M474.06,335.9v1.5M480.65,416.8v-2.5M480.65,335.9v2.5M487.24,416.8v-1.5M487.24,335.9v1.5M493.82,416.8v-1.5M493.82,335.9v1.5M500.41,416.8v-1.5M500.41,335.9v1.5M506.99,416.8v-1.5M506.99,335.9v1.5M513.58,416.8v-2.5M513.58,335.9v2.5M520.16,416.8v-1.5M520.16,335.9v1.5M526.75,416.8v-1.5M526.75,335.9v1.5M533.33,416.8v-1.5M533.33,335.9v1.5M539.91,416.8v-1.5M539.91,335.9v1.5M546.50,416.8v-2.5M546.50,335.9v2.5M414.8,416.87h2.5M546.5,416.87h-2.5M414.8,414.55h1.5M546.5,414.55h-1.5M414.8,412.24h1.5M546.5,412.24h-1.5M414.8,409.93h1.5M546.5,409.93h-1.5M414.8,407.61h1.5M546.5,407.61h-1.5M414.8,405.30h2.5M546.5,405.30h-2.5M414.8,402.99h1.5M546.5,402.99h-1.5M414.8,400.67h1.5M546.5,400.67h-1.5M414.8,398.36h1.5M546.5,398.36h-1.5M414.8,396.05h1.5M546.5,396.05h-1.5M414.8,393.74h2.5M546.5,393.74h-2.5M414.8,391.42h1.5M546.5,391.42h-1.5M414.8,389.11h1.5M546.5,389.11h-1.5M414.8,386.80h1.5M546.5,386.80h-1.5M414.8,384.48h1.5M546.5,384.48h-1.5M414.8,382.17h2.5M546.5,382.17h-2.5M414.8,379.86h1.5M546.5,379.86h-1.5M414.8,377.54h1.5M546.5,377.54h-1.5M414.8,375.23h1.5M546.5,375.23h-1.5M414.8,372.92h1.5M546.5,372.92h-1.5M414.8,370.61h2.5M546.5,370.61h-2.5M414.8,368.29h1.5M546.5,368.29h-1.5M414.8,365.98h1.5M546.5,365.98h-1.5M414.8,363.67h1.5M546.5,363.67h-1.5M414.8,361.35h1.5M546.5,361.35h-1.5M414.8,359.04h2.5M546.5,359.04h-2.5M414.8,356.73h1.5M546.5,356.73h-1.5M414.8,354.41h1.5M546.5,354.41h-1.5M414.8,352.10h1.5M546.5,352.10h-1.5M414.8,349.79h1.5M546.5,349.79h-1.5M414.8,347.48h2.5M546.5,347.48h-2.5M414.8,345.16h1.5M546.5,345.16h-1.5M414.8,342.85h1.5M546.5,342.85h-1.5M414.8,340.54h1.5M546.5,340.54h-1.5M414.8,338.22h1.5M546.5,338.22h-1.5M414.8,335.91h2.5M546.5,335.91h-2.5" stroke="#333" stroke-width="0.7200000000000001" fill="none"/>
<line x1="414.8" y1="405.30" x2="546.5" y2="405.30" stroke="#222" stroke-width="0.8"/>
<clipPath id="ci"><rect x="414.8" y="335.9" width="131.7" height="80.7"/></clipPath>
<g clip-path="url(#ci)">
<path d="M426.32,333.60 L426.34,333.73 L426.34,333.85 L426.34,333.99 L426.34,334.18 L426.37,334.43 L426.42,334.79 L426.52,335.27 L426.65,335.91 L426.84,336.75 L427.07,337.78 L427.34,338.95 L427.64,340.22 L427.96,341.52 L428.29,342.82 L428.62,344.05 L428.96,345.16 L429.30,346.19 L429.65,347.18 L430.02,348.13 L430.40,349.07 L430.78,349.97 L431.16,350.85 L431.55,351.72 L431.92,352.56 L432.29,353.39 L432.65,354.20 L433.02,354.99 L433.38,355.76 L433.75,356.50 L434.12,357.22 L434.50,357.91 L434.88,358.58 L435.28,359.21 L435.67,359.82 L436.07,360.40 L436.47,360.96 L436.88,361.50 L437.30,362.01 L437.73,362.50 L438.18,362.97 L438.63,363.42 L439.10,363.84 L439.58,364.24 L440.07,364.62 L440.57,364.98 L441.08,365.32 L441.60,365.66 L442.13,365.98 L442.66,366.29 L443.20,366.58 L443.75,366.86 L444.31,367.12 L444.88,367.37 L445.48,367.61 L446.09,367.84 L446.74,368.06 L447.41,368.27 L448.11,368.47 L448.83,368.65 L449.58,368.83 L450.34,368.99 L451.10,369.15 L451.88,369.30 L452.66,369.45 L453.40,369.59 L454.07,369.72 L454.72,369.85 L455.40,369.97 L456.15,370.08 L457.01,370.19 L458.03,370.28 L459.25,370.37 L460.74,370.45 L462.49,370.52 L464.42,370.57 L466.45,370.62 L468.51,370.67 L470.52,370.72 L472.39,370.77 L474.06,370.84 L475.55,370.90 L476.91,370.97 L478.19,371.03 L479.39,371.10 L480.55,371.18 L481.68,371.27 L482.80,371.39 L483.94,371.53 L485.09,371.68 L486.23,371.81 L487.35,371.95 L488.45,372.11 L489.52,372.31 L490.56,372.58 L491.55,372.93 L492.50,373.38 L493.40,373.91 L494.23,374.49 L495.02,375.13 L495.77,375.84 L496.51,376.63 L497.25,377.52 L497.99,378.52 L498.76,379.63 L499.57,380.90 L500.41,382.35 L501.26,383.92 L502.11,385.58 L502.93,387.28 L503.71,388.96 L504.41,390.59 L505.01,392.12 L505.52,393.54 L505.95,394.89 L506.31,396.21 L506.62,397.51 L506.89,398.81 L507.14,400.14 L507.39,401.53 L507.65,402.99 L507.91,404.59 L508.16,406.36 L508.40,408.21 L508.62,410.07 L508.82,411.87 L509.00,413.54 L509.16,414.99 L509.29,416.17 L509.40,417.05 L509.48,417.71 L509.53,418.18 L509.56,418.50 L509.58,418.72 L509.60,418.88 L509.61,419.02 L509.62,419.18" fill="none" stroke="#ff0000" stroke-width="0.8" stroke-dasharray="2.2 1.2" stroke-linejoin="round"/>
<path d="M515.39,419.18 L515.39,333.60" fill="none" stroke="#ff0000" stroke-width="0.8" stroke-dasharray="2.2 1.2" stroke-linejoin="round"/>
<path d="M524.11,333.60 L524.15,333.74 L524.18,333.88 L524.22,334.04 L524.28,334.25 L524.35,334.52 L524.45,334.87 L524.59,335.33 L524.77,335.91 L525.00,336.66 L525.29,337.57 L525.61,338.59 L525.96,339.70 L526.33,340.83 L526.70,341.96 L527.06,343.03 L527.40,344.01 L527.72,344.91 L528.02,345.80 L528.32,346.67 L528.62,347.52 L528.93,348.33 L529.26,349.10 L529.63,349.82 L530.04,350.48 L530.50,351.11 L531.01,351.72 L531.57,352.29 L532.14,352.81 L532.71,353.27 L533.28,353.66 L533.82,353.97 L534.32,354.18 L534.78,354.29 L535.22,354.32 L535.64,354.26 L536.05,354.12 L536.44,353.93 L536.83,353.67 L537.22,353.37 L537.61,353.03 L537.99,352.62 L538.36,352.14 L538.72,351.59 L539.07,350.99 L539.43,350.36 L539.79,349.70 L540.17,349.05 L540.57,348.40 L540.99,347.75 L541.42,347.06 L541.87,346.36 L542.32,345.64 L542.78,344.92 L543.25,344.21 L543.72,343.52 L544.20,342.85 L544.70,342.18 L545.25,341.47 L545.83,340.76 L546.40,340.07 L546.94,339.43 L547.43,338.85 L547.84,338.36 L548.15,337.99" fill="none" stroke="#ff0000" stroke-width="0.8" stroke-dasharray="2.2 1.2" stroke-linejoin="round"/>
<path d="M417.93,333.60 L417.93,350.48 L418.04,351.45 L418.18,352.73 L418.35,354.25 L418.55,355.95 L418.75,357.74 L418.97,359.56 L419.19,361.33 L419.41,362.97 L419.62,364.55 L419.81,366.17 L420.01,367.79 L420.22,369.41 L420.45,371.00 L420.72,372.55 L421.02,374.04 L421.38,375.46 L421.80,376.82 L422.25,378.15 L422.73,379.43 L423.26,380.67 L423.81,381.84 L424.40,382.95 L425.02,383.99 L425.67,384.95 L426.34,385.81 L427.04,386.60 L427.77,387.31 L428.53,387.95 L429.32,388.54 L430.15,389.08 L431.02,389.57 L431.92,390.03 L432.88,390.44 L433.91,390.76 L434.98,391.01 L436.08,391.23 L437.19,391.43 L438.31,391.63 L439.41,391.85 L440.48,392.12 L441.52,392.40 L442.55,392.68 L443.58,392.95 L444.60,393.24 L445.62,393.55 L446.64,393.88 L447.67,394.25 L448.71,394.66 L449.83,395.15 L451.03,395.73 L452.28,396.37 L453.51,397.02 L454.68,397.65 L455.73,398.22 L456.61,398.70 L457.27,399.05 L457.76,398.86 L458.40,398.64 L459.16,398.37 L460.01,398.06 L460.91,397.70 L461.82,397.28 L462.70,396.81 L463.53,396.28 L464.31,395.66 L465.10,394.93 L465.89,394.13 L466.68,393.29 L467.46,392.43 L468.24,391.58 L469.02,390.77 L469.78,390.03 L470.51,389.38 L471.20,388.78 L471.86,388.21 L472.52,387.66 L473.21,387.11 L473.96,386.52 L474.78,385.89 L475.71,385.18 L476.63,384.48 L477.48,383.85 L478.33,383.22 L479.27,382.53 L480.38,381.73 L481.75,380.75 L483.46,379.53 L485.59,378.01 L488.19,376.15 L491.20,373.99 L494.54,371.60 L498.14,369.03 L501.92,366.34 L505.81,363.58 L509.72,360.82 L513.58,358.11 L517.68,355.26 L522.23,352.11 L527.01,348.82 L531.79,345.54 L536.35,342.41 L540.47,339.59 L543.93,337.22 L546.50,335.45" fill="none" stroke="#000000" stroke-width="0.8" stroke-dasharray="2.5 0.8 0.6 0.8" stroke-linejoin="round"/>
<path d="M417.93,333.60 L417.93,393.27 L418.19,393.61 L418.53,394.06 L418.93,394.60 L419.39,395.20 L419.88,395.82 L420.38,396.42 L420.89,396.97 L421.38,397.44 L421.85,397.83 L422.30,398.19 L422.76,398.52 L423.23,398.83 L423.73,399.11 L424.30,399.38 L424.94,399.63 L425.67,399.86 L426.50,400.09 L427.44,400.32 L428.45,400.52 L429.51,400.71 L430.61,400.87 L431.72,401.00 L432.82,401.09 L433.90,401.14 L434.95,401.14 L436.01,401.09 L437.08,401.01 L438.16,400.90 L439.23,400.76 L440.31,400.59 L441.38,400.41 L442.46,400.21 L443.53,400.00 L444.60,399.76 L445.68,399.51 L446.76,399.23 L447.83,398.93 L448.90,398.61 L449.96,398.26 L451.02,397.90 L452.06,397.51 L453.09,397.09 L454.11,396.65 L455.13,396.19 L456.15,395.71 L457.18,395.22 L458.21,394.71 L459.25,394.20 L460.31,393.67 L461.38,393.12 L462.46,392.56 L463.55,391.99 L464.63,391.40 L465.71,390.80 L466.77,390.19 L467.81,389.57 L468.82,388.95 L469.78,388.32 L470.73,387.69 L471.68,387.04 L472.63,386.38 L473.61,385.70 L474.63,384.99 L475.71,384.25 L476.73,383.57 L477.62,382.97 L478.47,382.40 L479.39,381.78 L480.47,381.05 L481.80,380.15 L483.47,379.00 L485.59,377.54 L488.19,375.75 L491.20,373.66 L494.54,371.33 L498.14,368.83 L501.92,366.20 L505.81,363.50 L509.72,360.79 L513.58,358.11 L517.68,355.28 L522.23,352.14 L527.01,348.86 L531.79,345.57 L536.35,342.43 L540.47,339.60 L543.93,337.22 L546.50,335.45" fill="none" stroke="#0000ff" stroke-width="0.9" stroke-linejoin="round"/>
</g>
<text x="412.50" y="418.67" font-size="5" text-anchor="end" font-family='"Liberation Sans", sans-serif' fill="#444">&#8722;5</text>
<text x="412.50" y="407.10" font-size="5" text-anchor="end" font-family='"Liberation Sans", sans-serif' fill="#444">0</text>
<text x="412.50" y="395.54" font-size="5" text-anchor="end" font-family='"Liberation Sans", sans-serif' fill="#444">5</text>
<text x="412.50" y="383.97" font-size="5" text-anchor="end" font-family='"Liberation Sans", sans-serif' fill="#444">10</text>
<text x="412.50" y="372.41" font-size="5" text-anchor="end" font-family='"Liberation Sans", sans-serif' fill="#444">15</text>
<text x="412.50" y="360.84" font-size="5" text-anchor="end" font-family='"Liberation Sans", sans-serif' fill="#444">20</text>
<text x="412.50" y="349.28" font-size="5" text-anchor="end" font-family='"Liberation Sans", sans-serif' fill="#444">25</text>
<text x="412.50" y="337.71" font-size="5" text-anchor="end" font-family='"Liberation Sans", sans-serif' fill="#444">30</text>
<text x="416.00" y="424.00" font-size="5" text-anchor="middle" font-family='"Liberation Sans", sans-serif' fill="#444">0</text>
<text x="448.93" y="424.00" font-size="5" text-anchor="middle" font-family='"Liberation Sans", sans-serif' fill="#444">10</text>
<text x="481.85" y="424.00" font-size="5" text-anchor="middle" font-family='"Liberation Sans", sans-serif' fill="#444">20</text>
<text x="514.78" y="424.00" font-size="5" text-anchor="middle" font-family='"Liberation Sans", sans-serif' fill="#444">30</text>
<text x="547.70" y="424.00" font-size="5" text-anchor="middle" font-family='"Liberation Sans", sans-serif' fill="#444">40</text>
</svg>
</body></html>
